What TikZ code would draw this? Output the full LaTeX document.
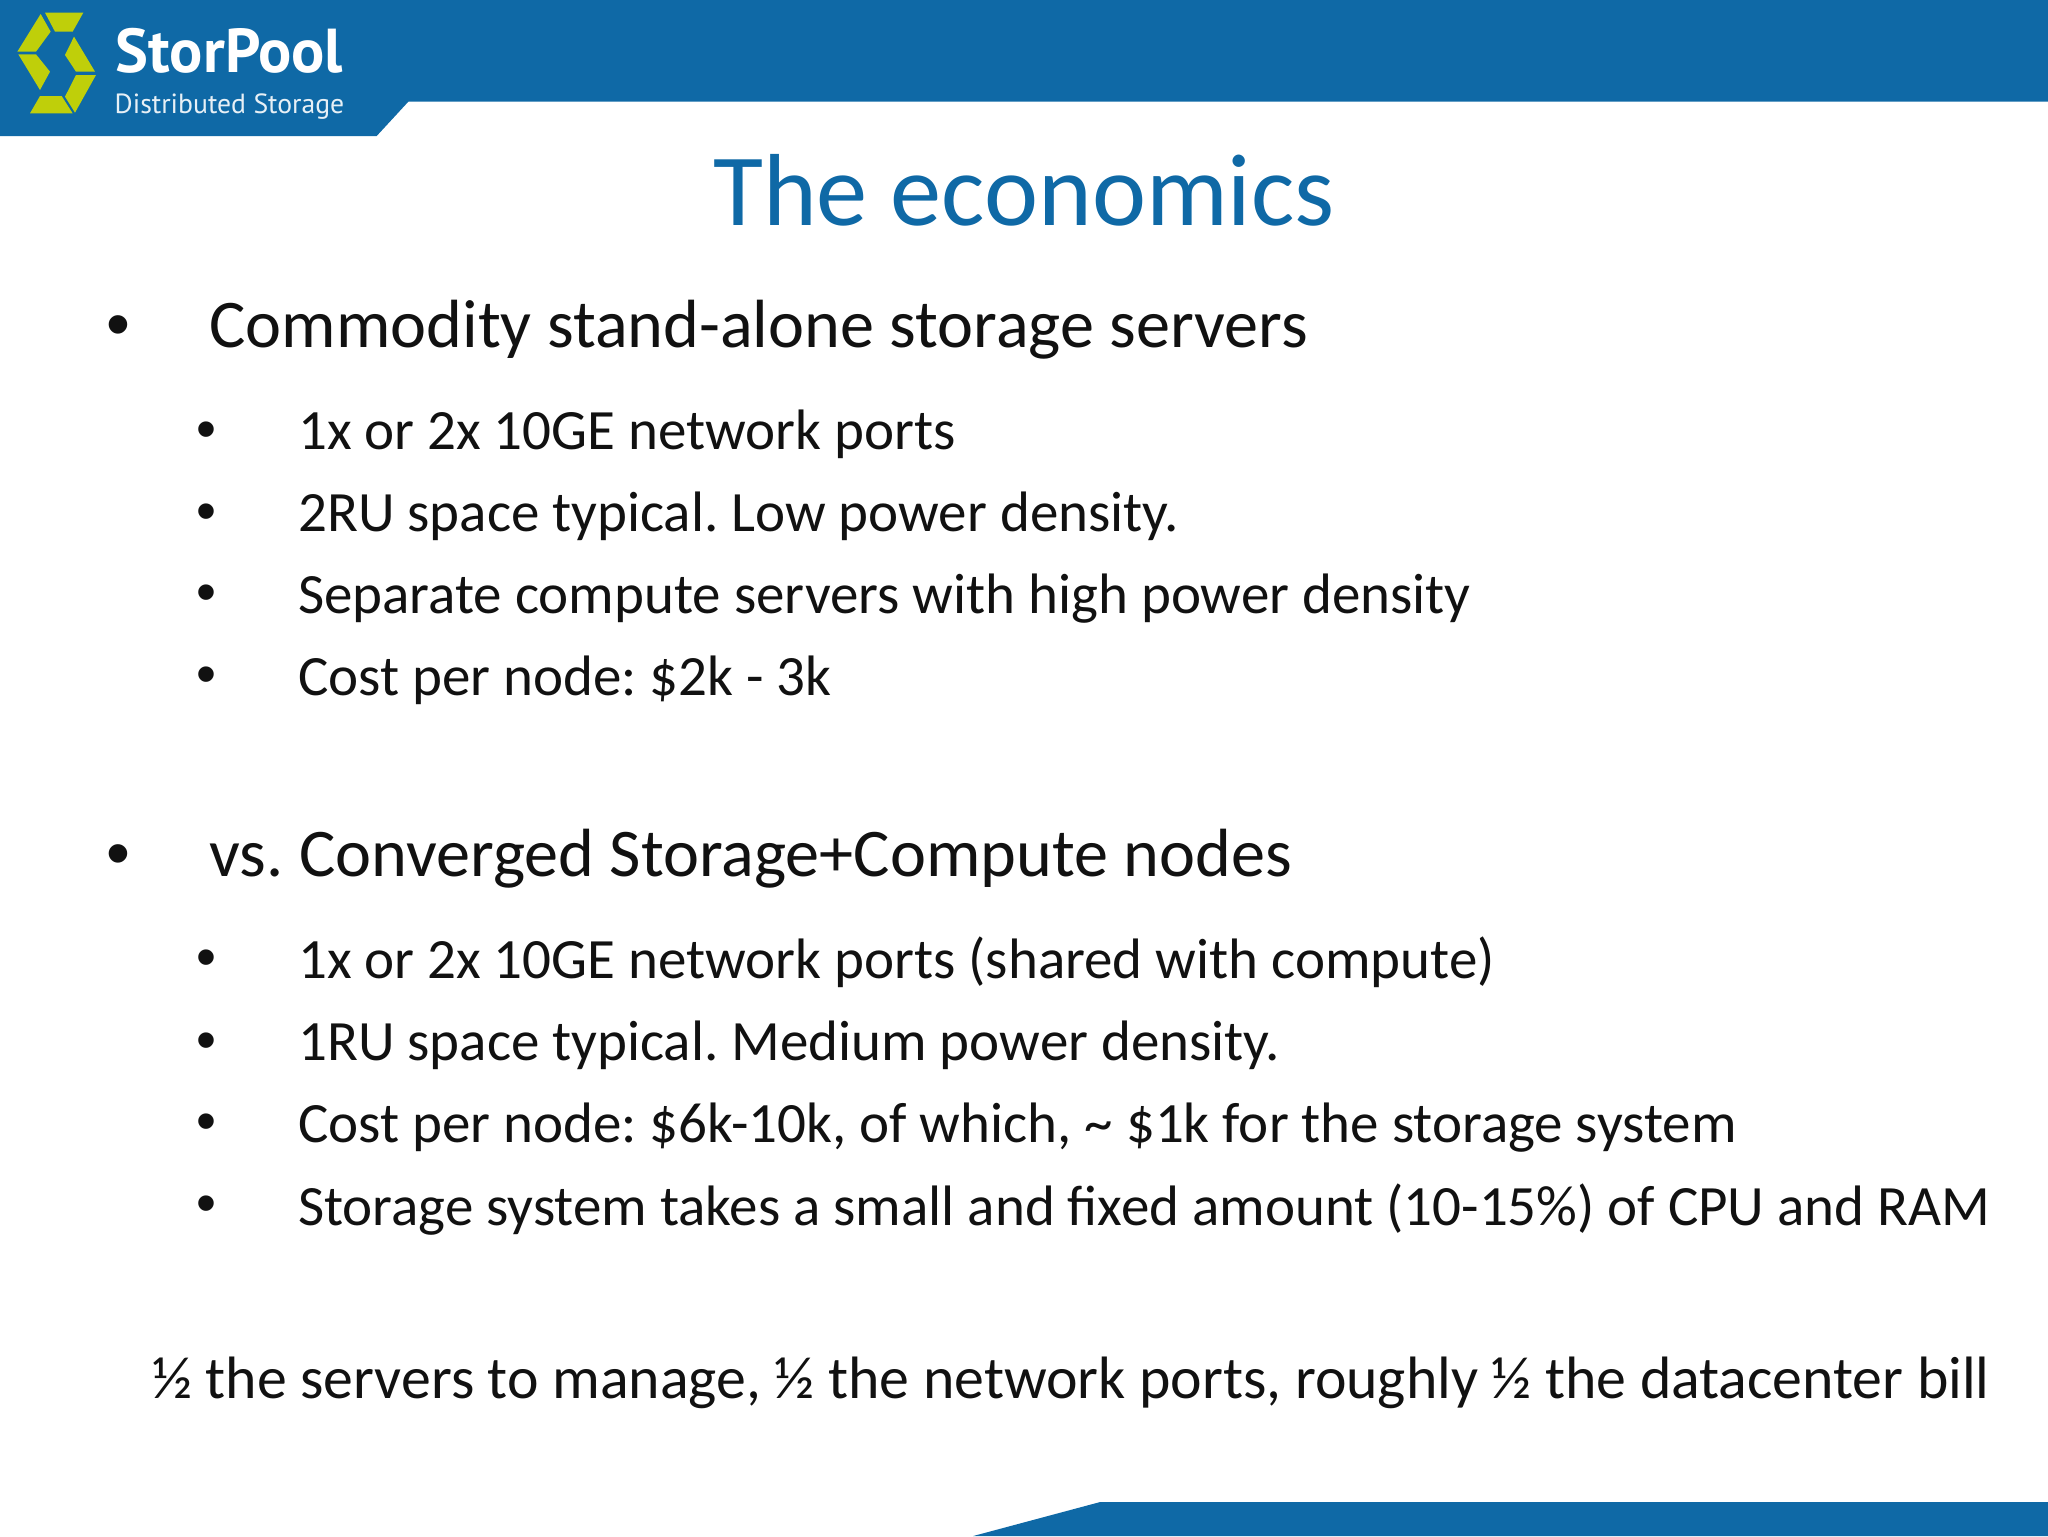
\documentclass[tikz,border=0pt]{standalone}
\usepackage{fontspec}
\setmainfont{Carlito}
\newfontfamily\logofont{PT Sans}
\newfontfamily\bulletfont{Liberation Sans}
\definecolor{sbblue}{HTML}{0F69A6}
\definecolor{sbgreen}{HTML}{BFCF0A}
\definecolor{sbtext}{HTML}{111111}
\frenchspacing
\tikzset{
  lone/.style={anchor=base west,inner sep=0pt,text=sbtext,font=\frenchspacing\fontsize{34.1}{34.1}\selectfont},
  ltwo/.style={anchor=base west,inner sep=0pt,text=sbtext,font=\frenchspacing\fontsize{28.5}{28.5}\selectfont},
  lnote/.style={anchor=base east,inner sep=0pt,text=sbtext,font=\frenchspacing\fontsize{29.9}{29.9}\selectfont},
  bone/.style={anchor=base west,inner sep=0pt,text=sbtext,font=\bulletfont\fontsize{34.1}{34.1}\selectfont},
  btwo/.style={anchor=base west,inner sep=0pt,text=sbtext,font=\bulletfont\fontsize{28.5}{28.5}\selectfont},
  logopiece/.style={fill=sbgreen,draw=none}
}
\begin{document}
\begin{tikzpicture}[x=0.653061pt,y=-0.653061pt]
\useasboundingbox (0,0) rectangle (1568,1176);
\fill[white] (0,0) rectangle (1568,1176);
\begin{scope}[x=0.166667pt,y=-0.166667pt]
\fill[sbblue] (0,0) -- (6144,0) -- (6144,305) -- (1225,305) -- (1130,408) -- (0,408) -- cycle;
\fill[logopiece] (135,38) -- (250,38) -- (218,95) -- (165,95) -- cycle;
\fill[logopiece] (122,42) -- (152,95) -- (108,155) -- (52,155) -- cycle;
\fill[logopiece] (55,163) -- (108,163) -- (150,215) -- (120,270) -- cycle;
\fill[logopiece] (222,110) -- (285,215) -- (228,215) -- (195,165) -- cycle;
\fill[logopiece] (228,225) -- (288,225) -- (225,338) -- (195,290) -- cycle;
\fill[logopiece] (120,288) -- (185,288) -- (218,340) -- (90,340) -- cycle;
\node[anchor=base west,inner sep=0pt,text=white,font=\logofont\bfseries\fontsize{31}{31}\selectfont] (logoname) at (346,218) {StorPool};
\node[anchor=base west,inner sep=0pt,text=white!90!sbblue,font=\logofont\fontsize{13.85}{13.85}\selectfont] (logosub) at (343,340) {Distributed Storage};
\fill[sbblue] (6144,4608) -- (2919,4608) -- (3300,4506) -- (6144,4506) -- cycle;
\end{scope}
\node[anchor=base,inner sep=0pt,text=sbblue,font=\fontsize{51.2}{51.2}\selectfont] (title) at (784,173) {The economics};
\node[bone] (b1) at (81,266) {•};
\node[lone] (t1) at (160,266) {Commodity stand-alone storage servers};
\node[btwo] (b2) at (150,343) {•};
\node[ltwo] (t2) at (228,344.5) {1x or 2x 10GE network ports};
\node[btwo] (b3) at (150,406) {•};
\node[ltwo] (t3) at (228,407) {2RU space typical. Low power density.};
\node[btwo] (b4) at (150,468) {•};
\node[ltwo] (t4) at (228,470) {Separate compute servers with high power density};
\node[btwo] (b5) at (150,531) {•};
\node[ltwo] (t5) at (228,532.5) {Cost per node: \$2k - 3k};
\node[bone] (b6) at (81,671) {•};
\node[lone] (t6) at (160,671) {vs. Converged Storage+Compute nodes};
\node[btwo] (b7) at (150,748) {•};
\node[ltwo] (t7) at (228,749.5) {1x or 2x 10GE network ports (shared with compute)};
\node[btwo] (b8) at (150,811) {•};
\node[ltwo] (t8) at (228,812) {1RU space typical. Medium power density.};
\node[btwo] (b9) at (150,873) {•};
\node[ltwo] (t9) at (228,875) {Cost per node: \$6k-10k, of which, \textasciitilde{} \$1k for the storage system};
\node[btwo] (b10) at (150,936) {•};
\node[ltwo] (t10) at (228,938) {Storage system takes a small and fixed amount (10-15\%) of CPU and RAM};
\node[lnote] (t11) at (1523.5,1071) {½ the servers to manage, ½ the network ports, roughly ½ the datacenter bill};
\end{tikzpicture}
\end{document}
